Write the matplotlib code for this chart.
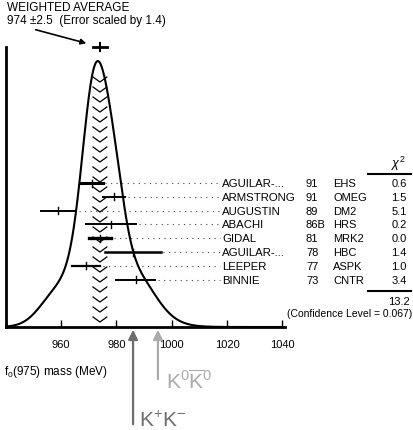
import numpy as np
import matplotlib.pyplot as plt

plt.rcParams['font.family'] = ['Liberation Sans', 'DejaVu Sans']
plt.rcParams['mathtext.fontset'] = 'custom'
plt.rcParams['mathtext.rm'] = 'Liberation Sans'
plt.rcParams['mathtext.it'] = 'Liberation Sans:italic'

# measurements (MeV)
names = ['AGUILAR-...', 'ARMSTRONG', 'AUGUSTIN', 'ABACHI', 'GIDAL',
         'AGUILAR-...', 'LEEPER', 'BINNIE']
years = ['91', '91', '89', '86B', '81', '78', '77', '73']
exps = ['EHS', 'OMEG', 'DM2', 'HRS', 'MRK2', 'HBC', 'ASPK', 'CNTR']
masses = [971, 979, 959, 978, 974, 986, 969, 987]
errors = [4, 4, 6.5, 9, 4, 10, 5, 7]
chi2 = ['0.6', '1.5', '5.1', '0.2', '0.0', '1.4', '1.0', '3.4']
chi2_total = '13.2'
conf_level = '0.067'
avg_mass = 974
avg_err = 2.5
err_scale = 1.4
kk_charged = 986
kk_neutral = 995
xticks = [960, 980, 1000, 1020, 1040]

W, H = 413, 431
def fx(px):
    return px / W
def fy(py):
    return 1 - py / H

fig = plt.figure(figsize=(W / 100, H / 100), dpi=100)
ax_top, ax_base = 48, 328
ax = fig.add_axes([fx(6), fy(ax_base), fx(285) - fx(6), (ax_base - ax_top) / H])
ax.set_xlim(940, 1041)

# ideogram: gaussians with area proportional to 1/sigma
x = np.linspace(940, 1041, 800)
curve = np.zeros_like(x)
for m, s in zip(masses, errors):
    curve += np.exp(-0.5 * ((x - m) / s) ** 2) / s ** 2
peak = curve.max()
ymax = peak * (ax_base - ax_top) / (ax_base - 62)
ax.set_ylim(0, ymax)
ax.plot(x, curve, color='black', lw=1.5)

# chevron band for the average
def curve_at(v):
    return np.interp(v, x, curve)
lo, hi = avg_mass - avg_err, avg_mass + avg_err
band_top = curve_at(avg_mass)
step = 10 / (ax_base - ax_top) * ymax
depth = 5 / (ax_base - ax_top) * ymax
yb = 0.5 * step
while yb + depth < band_top * 0.97:
    ax.plot([lo, avg_mass, hi], [yb + depth, yb, yb + depth], color='black', lw=0.9)
    yb += step

# measurements with error bars
trans = ax.get_xaxis_transform()
row0, row_step = 184, 13.8
lws = [2.2, 1.4, 1.4, 1.4, 2.4, 1.8, 1.6, 1.4]
for i, (m, s) in enumerate(zip(masses, errors)):
    py = row0 + i * row_step
    ya = (ax_base - py) / (ax_base - ax_top)
    tick = 3.5 / (ax_base - ax_top)
    ax.plot([m - s, m + s], [ya, ya], color='black', lw=lws[i], transform=trans, clip_on=False)
    ax.plot([m, m], [ya - tick, ya + tick], color='black', lw=1.0, transform=trans, clip_on=False)
    ax.plot([m + s + 1, 1017.5], [ya, ya], color='#444444', lw=0.8,
            linestyle=(0, (1, 4)), transform=trans, clip_on=False)
    fig.text(fx(222), fy(py), names[i], fontsize=8.2, va='center', ha='left')
    fig.text(fx(306), fy(py), years[i], fontsize=8, va='center', ha='left')
    fig.text(fx(333), fy(py), exps[i], fontsize=8, va='center', ha='left')
    fig.text(fx(399), fy(py), chi2[i], fontsize=8, va='center', ha='center')

# weighted average marker
ax.plot([avg_mass - avg_err, avg_mass + avg_err], [1, 1], color='black', lw=2,
        transform=trans, clip_on=False)
ax.plot([avg_mass, avg_mass], [1 - 4 / 280, 1 + 4 / 280], color='black', lw=1.5,
        transform=trans, clip_on=False)

# chi2 column header and totals
fig.text(fx(398), fy(164), r'$\chi^2$', fontsize=9, ha='center', va='center')
fig.add_artist(plt.Line2D([fx(368), fx(411)], [fy(175), fy(175)], color='black', lw=1.5))
fig.add_artist(plt.Line2D([fx(368), fx(411)], [fy(292), fy(292)], color='black', lw=1.5))
fig.text(fx(399), fy(302), chi2_total, fontsize=8, ha='center', va='center')
fig.text(fx(412), fy(314), '(Confidence Level = ' + conf_level + ')', fontsize=7.5,
         ha='right', va='center')

# title
fig.text(fx(7), fy(8), 'WEIGHTED AVERAGE', fontsize=8.5, va='center')
fig.text(fx(7), fy(21), '%d \u00b1%.1f  (Error scaled by %.1f)' % (avg_mass, avg_err, err_scale),
         fontsize=8.5, va='center')
ax.annotate('', xy=(fx(89), fy(45)), xycoords='figure fraction',
            xytext=(fx(33), fy(30)), textcoords='figure fraction',
            arrowprops=dict(arrowstyle='-|>', color='black', lw=1.2, mutation_scale=8))

# axes styling
for side in ['top', 'right']:
    ax.spines[side].set_visible(False)
ax.spines['left'].set_linewidth(2)
ax.spines['bottom'].set_linewidth(2)
ax.set_yticks([])
ax.set_xticks(xticks)
ax.tick_params(axis='x', direction='in', length=5, width=1, labelsize=8, pad=9)
fig.text(fx(4), fy(372), r'$\mathrm{f}_0$(975) mass (MeV)', fontsize=8.5, va='center')

# threshold arrows
ax.annotate('', xy=(kk_charged, 0), xycoords=('data', 'axes fraction'),
            xytext=(kk_charged, -100 / 280), textcoords=('data', 'axes fraction'),
            arrowprops=dict(arrowstyle='-|>', color='#6e6e6e', lw=1.6, mutation_scale=14),
            annotation_clip=False)
ax.annotate('', xy=(kk_neutral, 0), xycoords=('data', 'axes fraction'),
            xytext=(kk_neutral, -55 / 280), textcoords=('data', 'axes fraction'),
            arrowprops=dict(arrowstyle='-|>', color='#ababab', lw=1.6, mutation_scale=14),
            annotation_clip=False)
fig.text(fx(139), fy(421), r'$\mathrm{K}^{+}\mathrm{K}^{-}$', fontsize=15, color='#6e6e6e', va='center')
fig.text(fx(166), fy(381), r'$\mathrm{K}^{0}\overline{\mathrm{K}}^{0}$', fontsize=15, color='#ababab', va='center')

fig.savefig('out.png', dpi=100)
